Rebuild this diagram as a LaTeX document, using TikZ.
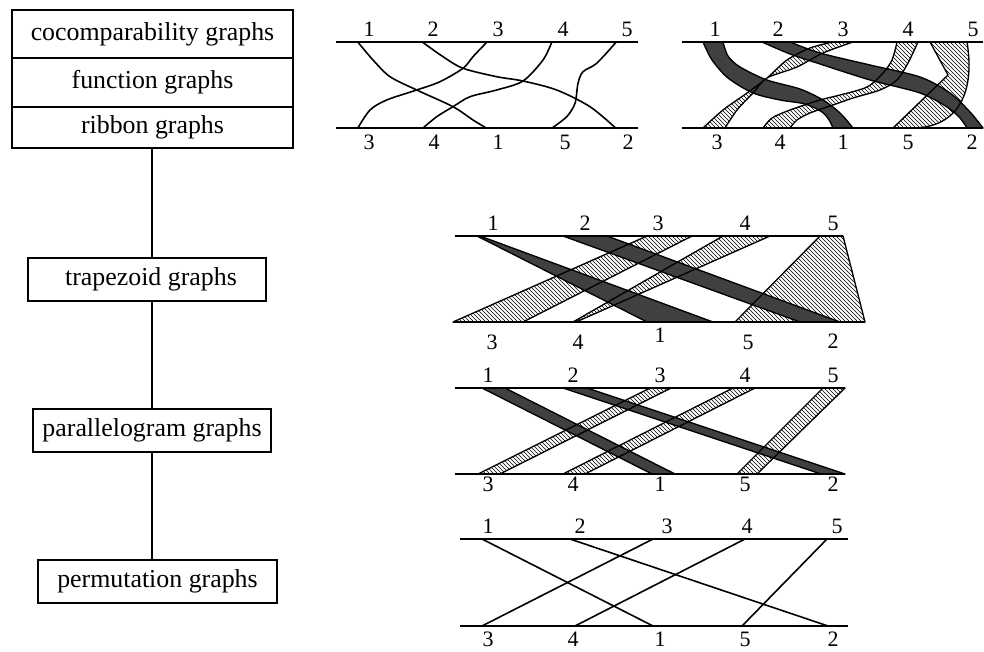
\documentclass[tikz,border=0pt]{standalone}
\usepackage{fontspec}
\setmainfont{Liberation Serif}
\usetikzlibrary{patterns}
\definecolor{ribdark}{gray}{0.25}
\begin{document}
\begin{tikzpicture}[x=0.75pt,y=-0.75pt,
  box/.style={draw,line width=1.6pt,inner sep=0pt,font=\fontsize{19.4}{23}\selectfont},
  conn/.style={line width=1.5pt},
  lbl/.style={anchor=base,inner sep=0pt,font=\fontsize{16.5}{18}\selectfont},
  baseln/.style={line width=1.5pt},
  cord/.style={line width=1.2pt},
  edgeln/.style={line width=1pt,line join=round},
  hatchfill/.style={pattern=north west lines},
  darkfill/.style={fill=ribdark},
]
\useasboundingbox (0,0) rectangle (984,652);

% ---------- hierarchy ----------
\node[box,minimum width=210.75pt,minimum height=36pt] (cocomp) at (152.5,34) {cocomparability graphs\hspace{6pt}};
\node[box,minimum width=210.75pt,minimum height=36.75pt] (func) at (152.5,82.5) {function graphs};
\node[box,minimum width=210.75pt,minimum height=30.75pt] (ribbon) at (152.5,127.5) {ribbon graphs\hspace{8pt}};
\node[box,minimum width=178.5pt,minimum height=32.25pt] (trap) at (147,279.5) {\hspace{6pt}trapezoid graphs};
\node[box,minimum width=178.5pt,minimum height=32.25pt] (para) at (152,430.5) {parallelogram graphs\hspace{4pt}};
\node[box,minimum width=179.25pt,minimum height=32.25pt] (perm) at (157.5,581.5) {permutation graphs\hspace{12pt}};
\coordinate (spine) at (152,0);
\draw[conn] (ribbon.south -| spine) -- (trap.north -| spine);
\draw[conn] (trap.south -| spine) -- (para.north -| spine);
\draw[conn] (para.south -| spine) -- (perm.north -| spine);

% ---------- figure A: function diagram ----------
\draw[cord] plot[smooth] coordinates {(358,42.3) (373,60) (390,76.7) (416.7,90) (453,106.7) (473,120) (486.7,128.3)};
\draw[cord] plot[smooth] coordinates {(422.7,42.3) (443,56.7) (463,68.3) (496.7,76.7) (523,81) (556.7,90) (590,106.7) (616,128.3)};
\draw[cord] plot[smooth] coordinates {(486.7,42.3) (473,56.7) (463,68.3) (440,81.7) (416.7,90) (386.7,100) (370,110) (357.7,128.3)};
\draw[cord] plot[smooth] coordinates {(551.7,42.3) (543,60) (523,81) (496.7,90) (470,96.7) (453,106.7) (436.7,116.7) (422.7,128.3)};
\draw[cord] plot[smooth] coordinates {(616,42.3) (596.7,63.3) (583,71.7) (578,83.3) (575,103.3) (566.7,116.7) (551.7,128.3)};
\draw[baseln] (336,42.3) -- (638,42.3);
\draw[baseln] (336,128.3) -- (638,128.3);
\foreach \x/\t [count=\i] in {369/1,433/2,498/3,563/4,627/5} \node[lbl] (At\i) at (\x,37) {\t};
\foreach \x/\t [count=\i] in {369/3,434/4,498/1,565/5,628/2} \node[lbl] (Ab\i) at (\x,150) {\t};

% ---------- figure B: ribbon diagram ----------
\def\Bone{plot[smooth] coordinates {(703,42) (712,60) (728,78) (753,93) (780,100) (805,104) (822,112) (829,120) (833,128)} -- plot[smooth] coordinates {(853,128) (840,113) (823,100) (800,89) (767,80) (740,67) (728,56) (723,42)} -- cycle}
\def\Btwo{plot[smooth] coordinates {(762,42) (790,54) (820,64) (870,80) (920,93) (947,107) (960,118) (967,128)} -- plot[smooth] coordinates {(983,128) (970,112) (950,93) (920,77) (870,65) (820,53) (790,42)} -- cycle}
\def\Bthree{plot[smooth] coordinates {(833,42) (810,48) (787,60) (767,78) (747,93) (723,110) (703,128)} -- plot[smooth] coordinates {(725,128) (737,110) (753,93) (767,78) (797,67) (823,53) (853,42)} -- cycle}
\def\Bfour{plot[smooth] coordinates {(897,42) (892,60) (883,73) (867,87) (840,95) (820,100) (790,110) (772,118) (763,128)} -- plot[smooth] coordinates {(790,128) (797,120) (810,113) (833,105) (853,98) (880,90) (897,80) (908,63) (918,42)} -- cycle}
\def\Bfive{(930,42) -- (948,75) -- (893,128) -- (912,128) .. controls (960,128) and (975,90) .. (967,42) -- cycle}
\path[hatchfill] \Bthree;
\path[hatchfill] \Bfour;
\path[hatchfill] \Bfive;
\path[darkfill] \Bone;
\path[darkfill] \Btwo;
\draw[edgeln] \Bthree;
\draw[edgeln] \Bfour;
\draw[edgeln] \Bfive;
\draw[edgeln] \Bone;
\draw[edgeln] \Btwo;
\draw[baseln] (682,42) -- (983,42);
\draw[baseln] (682,128) -- (983,128);
\foreach \x/\t [count=\i] in {715/1,778/2,843/3,908/4,973/5} \node[lbl] (Bt\i) at (\x,37) {\t};
\foreach \x/\t [count=\i] in {717/3,780/4,843/1,908/5,972/2} \node[lbl] (Bb\i) at (\x,150) {\t};

% ---------- figure C: trapezoid diagram ----------
\def\Cone{(477,236) -- (480,236) -- (713,322) -- (647,322) -- cycle}
\def\Ctwo{(563,236) -- (607,236) -- (840,322) -- (800,322) -- cycle}
\def\Cthree{(647,236) -- (692,236) -- (523,322) -- (453,322) -- cycle}
\def\Cfour{(723,236) -- (770,236) -- (576,322) -- (573,322) -- cycle}
\def\Cfive{(820,236) -- (843,236) -- (865,322) -- (735,322) -- cycle}
\path[hatchfill] \Cthree;
\path[hatchfill] \Cfour;
\path[hatchfill] \Cfive;
\path[darkfill] \Cone;
\path[darkfill] \Ctwo;
\foreach \p in {\Cthree,\Cfour,\Cfive,\Cone,\Ctwo} \draw[edgeln] \p;
\draw[baseln] (455,236) -- (843,236);
\draw[baseln] (453,322) -- (865,322);
\foreach \x/\t [count=\i] in {493/1,585/2,658/3,745/4,833/5} \node[lbl] (Ct\i) at (\x,230.5) {\t};
\foreach \x/\y/\t [count=\i] in {492/349/3,578/349/4,660/342.5/1,748/349/5,833/348/2} \node[lbl] (Cb\i) at (\x,\y) {\t};

% ---------- figure D: parallelogram diagram ----------
\def\Done{(482,388) -- (505,388) -- (675,474) -- (652,474) -- cycle}
\def\Dtwo{(563,388) -- (587,388) -- (845,474) -- (821,474) -- cycle}
\def\Dthree{(650,388) -- (671,388) -- (500,474) -- (478,474) -- cycle}
\def\Dfour{(733,388) -- (755,388) -- (585,474) -- (563,474) -- cycle}
\def\Dfive{(823,388) -- (845,388) -- (757,474) -- (737,474) -- cycle}
\path[hatchfill] \Dthree;
\path[hatchfill] \Dfour;
\path[hatchfill] \Dfive;
\path[darkfill] \Done;
\path[darkfill] \Dtwo;
\foreach \p in {\Dthree,\Dfour,\Dfive,\Done,\Dtwo} \draw[edgeln] \p;
\draw[baseln] (455,388) -- (845,388);
\draw[baseln] (455,474) -- (845,474);
\foreach \x/\t [count=\i] in {488/1,573/2,660/3,745/4,833/5} \node[lbl] (Dt\i) at (\x,382) {\t};
\foreach \x/\t [count=\i] in {488/3,573/4,660/1,745/5,833/2} \node[lbl] (Db\i) at (\x,491) {\t};

% ---------- figure E: permutation diagram ----------
\foreach \n/\x in {1/482,2/570,3/653,4/745,5/827} \coordinate (Et\n) at (\x,539);
\foreach \n/\x in {3/482,4/575,1/653,5/742,2/828} \coordinate (Eb\n) at (\x,626);
\foreach \n in {1,...,5} \draw[cord] (Et\n) -- (Eb\n);
\draw[baseln] (460,539) -- (848,539);
\draw[baseln] (460,626) -- (848,626);
\foreach \x/\t [count=\i] in {488/1,580/2,667/3,747/4,837/5} \node[lbl] (Ft\i) at (\x,533) {\t};
\foreach \x/\t [count=\i] in {488/3,573/4,660/1,745/5,833/2} \node[lbl] (Fb\i) at (\x,646.5) {\t};
\end{tikzpicture}
\end{document}
